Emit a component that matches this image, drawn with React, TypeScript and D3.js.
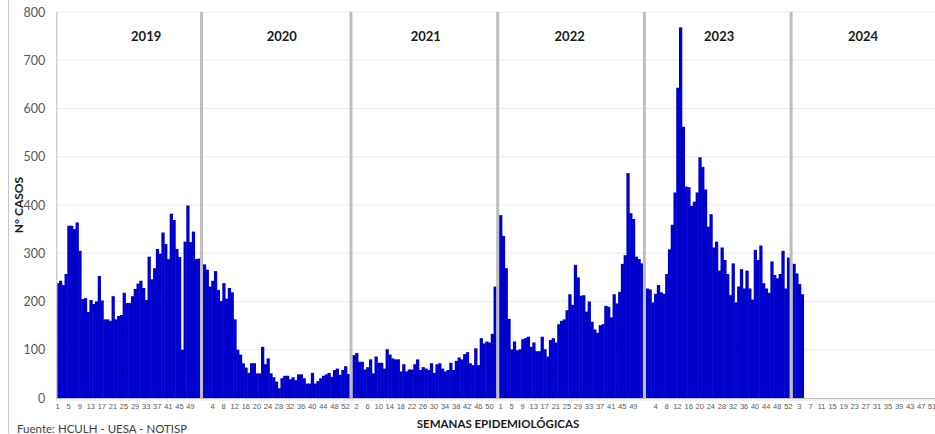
import * as d3 from 'd3';
import { useEffect, useRef } from 'react';

// epidemiological weeks per year, one bar per week
const years = ['2019', '2020', '2021', '2022', '2023', '2024'];
const weeksPerYear = [52, 53, 52, 52, 52, 52];

const cases2019 = [
  238, 243, 234, 257, 357, 357, 350, 364, 305, 205, 207, 178, 203, 195, 200, 253, 202, 163, 163, 160,
  211, 163, 170, 172, 218, 197, 197, 211, 226, 237, 243, 228, 203, 293, 246, 269, 309, 299, 343, 319,
  288, 382, 369, 309, 292, 100, 324, 399, 323, 345, 288, 289,
];
const cases2020 = [
  277, 266, 231, 243, 263, 224, 201, 238, 206, 228, 219, 163, 100, 90, 72, 63, 52, 72, 72, 51,
  51, 106, 70, 82, 51, 43, 34, 20, 41, 46, 46, 39, 43, 37, 49, 49, 41, 30, 30, 52,
  30, 35, 41, 46, 49, 52, 44, 58, 61, 48, 58, 66, 50,
];
const cases2021 = [
  89, 93, 75, 75, 59, 64, 80, 51, 86, 73, 73, 61, 101, 90, 82, 80, 80, 55, 70, 55,
  59, 59, 70, 80, 58, 64, 61, 58, 72, 52, 70, 72, 61, 55, 58, 73, 58, 77, 84, 80,
  91, 95, 72, 68, 103, 68, 124, 113, 117, 115, 133, 231,
];
const cases2022 = [
  379, 336, 269, 164, 101, 117, 99, 101, 122, 124, 127, 106, 115, 97, 97, 127, 101, 86, 120, 124,
  115, 153, 160, 163, 182, 215, 193, 276, 250, 212, 213, 179, 200, 158, 142, 135, 151, 153, 191, 189,
  167, 215, 196, 220, 278, 296, 466, 383, 371, 293, 288, 279,
];
const cases2023 = [
  227, 225, 198, 216, 234, 219, 216, 257, 308, 359, 426, 643, 768, 562, 438, 437, 398, 407, 426, 499,
  479, 432, 355, 381, 312, 324, 264, 312, 286, 257, 213, 279, 198, 231, 267, 227, 264, 227, 204, 307,
  286, 316, 238, 227, 218, 283, 255, 248, 257, 305, 227, 291,
];
const cases2024 = [278, 258, 236, 215];

const casesByYear = [cases2019, cases2020, cases2021, cases2022, cases2023, cases2024];
const yTicks = [0, 100, 200, 300, 400, 500, 600, 700, 800];
// week under which each year title sits
const yearLabelWeek = [33, 29, 27, 26, 27, 26];

type Cat = { key: string; year: number; week: number | null; value: number | null };

const App = () => {
  const svgRef = useRef<SVGSVGElement | null>(null);

  useEffect(() => {
    const width = 935;
    const height = 434;
    const left = 56.2;
    const band = 2.768;
    const top = 12;
    const bottom = 398;

    // one empty category after each year holds the grey separator
    const cats: Cat[] = [];
    years.forEach((yr, i) => {
      for (let w = 1; w <= weeksPerYear[i]; w++) {
        const v = casesByYear[i][w - 1];
        cats.push({ key: `${yr}-${w}`, year: i, week: w, value: v === undefined ? null : v });
      }
      if (i < years.length - 1) cats.push({ key: `${yr}-sep`, year: i, week: null, value: null });
    });

    const x = d3
      .scaleBand<string>()
      .domain(cats.map((d) => d.key))
      .range([left, left + cats.length * band])
      .padding(0);

    const y = d3.scaleLinear().domain([0, 800]).range([bottom, top]);

    const svg = d3.select(svgRef.current).attr('width', width).attr('height', height);
    svg.selectAll('*').remove();

    // outer frame (rounded corner at bottom left)
    svg.append('rect')
      .attr('x', 8.5).attr('y', -30)
      .attr('width', 1000).attr('height', 472)
      .attr('rx', 10)
      .attr('fill', 'white')
      .attr('stroke', '#c8c8c8');

    // gridlines
    svg.append('g')
      .selectAll('line')
      .data(yTicks.filter((t) => t > 0))
      .join('line')
      .attr('x1', left).attr('x2', x.range()[1])
      .attr('y1', (d) => y(d)).attr('y2', (d) => y(d))
      .attr('stroke', '#ebebeb');

    // bars (slight overlap so no seams show between neighbours)
    svg.append('g')
      .selectAll('rect')
      .data(cats.filter((d) => d.value !== null))
      .join('rect')
      .attr('x', (d) => x(d.key)!)
      .attr('width', x.bandwidth() + 0.5)
      .attr('y', (d) => y(d.value!))
      .attr('height', (d) => y(0) - y(d.value!))
      .attr('fill', '#0000cc');

    // left axis line
    svg.append('line')
      .attr('x1', left + 0.5).attr('x2', left + 0.5)
      .attr('y1', top).attr('y2', bottom)
      .attr('stroke', '#cfcfcf').attr('stroke-width', 1.5);

    // year separators
    svg.append('g')
      .selectAll('line')
      .data(cats.filter((d) => d.week === null))
      .join('line')
      .attr('x1', (d) => x(d.key)! + x.bandwidth() / 2)
      .attr('x2', (d) => x(d.key)! + x.bandwidth() / 2)
      .attr('y1', top).attr('y2', bottom)
      .attr('stroke', '#bfbfbf').attr('stroke-width', 3);

    // x axis line + minor ticks
    svg.append('line')
      .attr('x1', left).attr('x2', x.range()[1])
      .attr('y1', bottom + 0.5).attr('y2', bottom + 0.5)
      .attr('stroke', '#bfbfbf');
    svg.append('g')
      .selectAll('line')
      .data(cats)
      .join('line')
      .attr('x1', (d) => x(d.key)! + 0.5).attr('x2', (d) => x(d.key)! + 0.5)
      .attr('y1', bottom).attr('y2', bottom + 3)
      .attr('stroke', '#c4c4c4').attr('stroke-width', 0.6);

    // x tick labels every 4th category
    const xAxis = svg.append('g')
      .attr('transform', `translate(0,${bottom})`)
      .call(
        d3.axisBottom(x)
          .tickValues(cats.filter((_, i) => i % 4 === 0).map((d) => d.key))
          .tickFormat((k) => {
            const c = cats.find((d) => d.key === k)!;
            return c.week === null ? '' : String(c.week);
          })
          .tickSize(0)
          .tickPadding(6)
      );
    xAxis.select('.domain').remove();
    xAxis.selectAll('text')
      .attr('font-family', '"Liberation Sans", Arial, sans-serif')
      .attr('font-size', 7.5)
      .attr('fill', '#595959');

    // y axis labels
    const yAxis = svg.append('g')
      .attr('transform', `translate(${left},0)`)
      .call(d3.axisLeft(y).tickValues(yTicks).tickSize(0).tickPadding(11));
    yAxis.select('.domain').remove();
    yAxis.selectAll('text')
      .attr('font-family', 'Lato, "Open Sans", sans-serif')
      .attr('font-size', 12.5)
      .attr('fill', '#595959');

    // year titles
    svg.append('g')
      .selectAll('text')
      .data(years)
      .join('text')
      .attr('x', (d, i) => x(`${d}-${yearLabelWeek[i]}`)! + x.bandwidth() / 2)
      .attr('y', 41)
      .attr('text-anchor', 'middle')
      .attr('font-family', 'Lato, "Open Sans", sans-serif')
      .attr('font-weight', 'bold')
      .attr('font-size', 13)
      .attr('fill', '#1a1a1a')
      .text((d) => d);

    // axis titles
    svg.append('text')
      .attr('transform', `translate(23,205) rotate(-90)`)
      .attr('text-anchor', 'middle')
      .attr('font-family', 'Lato, "Open Sans", sans-serif')
      .attr('font-weight', 'bold')
      .attr('font-size', 12)
      .attr('fill', '#1a1a1a')
      .text('N° CASOS');

    svg.append('text')
      .attr('x', 498).attr('y', 428)
      .attr('text-anchor', 'middle')
      .attr('font-family', 'Lato, "Open Sans", sans-serif')
      .attr('font-weight', 'bold')
      .attr('font-size', 11.5)
      .attr('fill', '#1a1a1a')
      .text('SEMANAS EPIDEMIOLÓGICAS');

    svg.append('text')
      .attr('x', 17).attr('y', 433)
      .attr('font-family', 'Lato, "Open Sans", sans-serif')
      .attr('font-size', 11.5)
      .attr('fill', '#404040')
      .text('Fuente: HCULH - UESA - NOTISP');
  }, []);

  return <svg ref={svgRef} style={{ position: 'absolute', left: 0, top: 0, display: 'block' }}></svg>;
};

export default App;
